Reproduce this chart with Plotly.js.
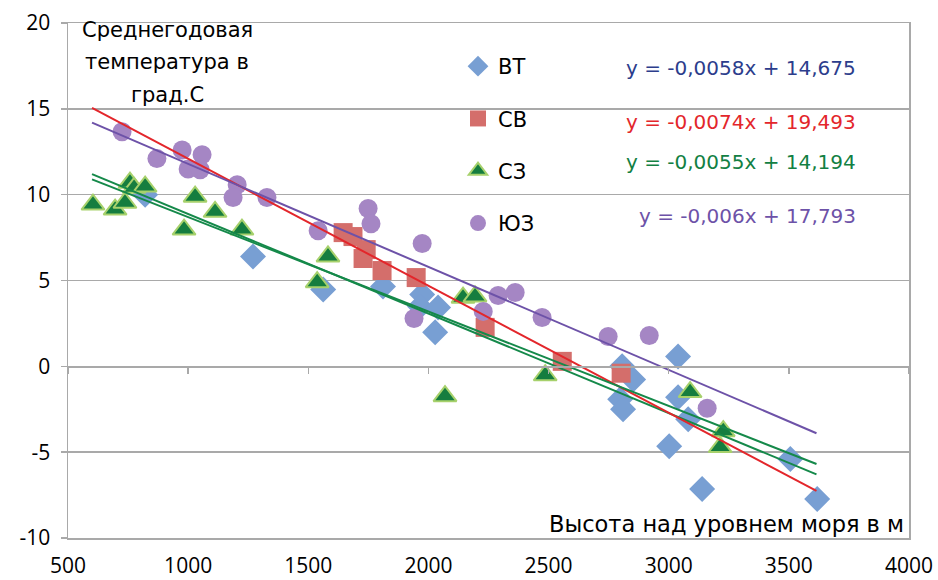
<!DOCTYPE html>
<html>
<head>
<meta charset="utf-8">
<script src="https://cdn.plot.ly/plotly-3.0.1.min.js"></script>
<style>html,body{margin:0;padding:0;background:#fff;}#chart{width:938px;height:580px;}</style>
</head>
<body>
<div id="chart"></div>
<script>
// ВТ
const vtX = [821, 1270, 1562, 1811, 1974, 1965, 2040, 2028, 3039, 2806, 2852, 2798, 2810, 3039, 3081, 3002, 3139, 3506, 3618];
const vtY = [10.0, 6.4, 4.48, 4.65, 4.19, 3.49, 3.43, 1.98, 0.58, 0.0, -0.76, -1.92, -2.5, -1.8, -3.08, -4.65, -7.15, -5.4, -7.73];
// СВ
const svX = [1645, 1686, 1741, 1728, 1807, 1949, 2236, 2557, 2802];
const svY = [7.79, 7.56, 6.8, 6.28, 5.58, 5.17, 2.27, 0.29, -0.4];
// СЗ
const szX = [604, 696, 737, 758, 775, 821, 1029, 1112, 983, 1224, 1582, 1537, 2144, 2194, 2069, 2486, 3089, 3227, 3214];
const szY = [9.42, 9.13, 9.53, 10.7, 10.4, 10.47, 9.88, 9.0, 7.97, 7.97, 6.4, 4.9, 4.0, 4.07, -1.74, -0.52, -1.5, -3.78, -4.7];
// ЮЗ
const yuzX = [725, 870, 975, 1058, 1000, 1050, 1204, 1187, 1328, 1541, 1749, 1761, 1974, 1940, 2228, 2290, 2361, 2473, 2748, 2919, 3160];
const yuzY = [13.66, 12.1, 12.6, 12.33, 11.5, 11.45, 10.58, 9.83, 9.83, 7.9, 9.19, 8.31, 7.15, 2.79, 3.2, 4.13, 4.3, 2.85, 1.74, 1.8, -2.44];

// linear trends (from the equations on the chart)
const trendNames = ['ВТ', 'СВ', 'СЗ', 'ЮЗ'];
const trendSlope = [-0.0058, -0.0074, -0.0055, -0.006];
const trendIntercept = [14.675, 19.493, 14.194, 17.793];
const trendXRange = [600, 3615];
const trendLineColors = ['#15894a', '#e3262b', '#15894a', '#6d52a8'];
const equationTexts = ['y = -0,0058x + 14,675', 'y = -0,0074x + 19,493', 'y = -0,0055x + 14,194', 'y = -0,006x + 17,793'];
const equationColors = ['#2c3d8c', '#e3262b', '#128043', '#6d52a8'];

const xTicks = [500, 1000, 1500, 2000, 2500, 3000, 3500, 4000];
const yTicks = [-10, -5, 0, 5, 10, 15, 20];

const FONT = 'Open Sans, Noto Sans, sans-serif';
const TFONT = 'DejaVu Sans, sans-serif';
const GRID = '#a9a9a9';

const traces = [
  {x: vtX, y: vtY, name: 'ВТ', legendgroup: 'g1', type: 'scatter', mode: 'markers',
   marker: {symbol: 'diamond', size: 20, color: '#789fd3', line: {width: 0}}},
  {x: svX, y: svY, name: 'СВ', legendgroup: 'g2', type: 'scatter', mode: 'markers',
   marker: {symbol: 'square', size: 19, color: '#d46e6b', line: {width: 0}}},
  {x: szX, y: szY, name: 'СЗ', legendgroup: 'g3', type: 'scatter', mode: 'markers',
   marker: {symbol: 'triangle-up', size: 20, color: '#157d3f', line: {width: 2, color: '#a7d16c'}}},
  {x: yuzX, y: yuzY, name: 'ЮЗ', legendgroup: 'g4', type: 'scatter', mode: 'markers',
   marker: {symbol: 'circle', size: 19, color: '#a586c4', line: {width: 0}}}
];

trendSlope.forEach((m, i) => {
  traces.push({
    x: trendXRange,
    y: trendXRange.map(v => m * v + trendIntercept[i]),
    name: trendNames[i] + ' trend', type: 'scatter', mode: 'lines',
    xaxis: 'x2', yaxis: 'y',
    line: {color: trendLineColors[i], width: 2}, showlegend: false, hoverinfo: 'skip'
  });
});

const annotations = [];
const eqY = [68, 122, 162, 216];
equationTexts.forEach((t, i) => {
  annotations.push({
    text: t, xref: 'paper', yref: 'paper',
    x: (858 - 68) / 841, y: (538 - eqY[i]) / 515,
    xanchor: 'right', yanchor: 'middle', showarrow: false,
    font: {family: TFONT, size: 20, color: equationColors[i]}
  });
});
const yTitleLines = ['Среднегодовая', 'температура в', 'град.С'];
const yTitleY = [30, 62, 95];
yTitleLines.forEach((t, i) => {
  annotations.push({
    text: t, xref: 'paper', yref: 'paper',
    x: (167 - 68) / 841, y: (538 - yTitleY[i]) / 515,
    xanchor: 'center', yanchor: 'middle', showarrow: false,
    font: {family: TFONT, size: 21, color: '#000'}
  });
});
annotations.push({
  text: 'Высота над уровнем моря в м', xref: 'paper', yref: 'paper',
  x: (906 - 68) / 841, y: (538 - 524) / 515,
  xanchor: 'right', yanchor: 'middle', showarrow: false,
  font: {family: TFONT, size: 22.5, color: '#000'}
});

const layout = {
  width: 938, height: 580,
  margin: {l: 68, r: 29, t: 23, b: 42, pad: 0},
  paper_bgcolor: '#fff', plot_bgcolor: '#fff',
  font: {family: FONT, size: 20, color: '#000'},
  showlegend: true,
  legend: {x: (458 - 68) / 841, y: (538 - 46) / 515, xanchor: 'left', yanchor: 'top',
           font: {family: TFONT, size: 21, color: '#000'}, tracegroupgap: 22,
           traceorder: 'grouped', bgcolor: 'rgba(0,0,0,0)', borderwidth: 0},
  xaxis: {range: [500, 4000], tickvals: xTicks, ticktext: xTicks.map(String),
          showgrid: false, zeroline: false, showline: true, linecolor: GRID, linewidth: 1.5,
          mirror: true, ticks: '', ticklabelstandoff: 8,
          tickfont: {family: FONT, size: 21, color: '#000'}},
  xaxis2: {range: [500, 4000], overlaying: 'x', anchor: 'free', position: 1 / 3,
           tickvals: xTicks, showticklabels: false, showgrid: false, zeroline: false,
           showline: true, linecolor: GRID, linewidth: 1.5, ticks: 'outside', ticklen: 6,
           tickcolor: GRID, tickwidth: 1.5},
  yaxis: {range: [-10, 20], tickvals: yTicks, ticktext: yTicks.map(String),
          showgrid: true, gridcolor: GRID, gridwidth: 1.5, zeroline: false,
          showline: true, linecolor: GRID, linewidth: 1.5, mirror: true,
          ticks: 'outside', ticklen: 6, tickcolor: GRID, tickwidth: 1.5, ticklabelstandoff: 6,
          tickfont: {family: FONT, size: 21, color: '#000'}},
  annotations: annotations
};

Plotly.newPlot('chart', traces, layout, {displayModeBar: false, staticPlot: true});
</script>
</body>
</html>
